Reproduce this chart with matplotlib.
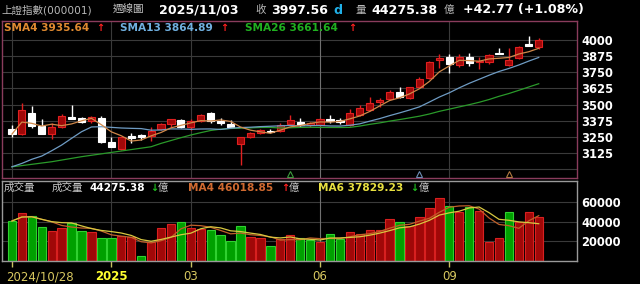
import numpy as np
import pandas as pd
import matplotlib
matplotlib.use('Agg')
import matplotlib.pyplot as plt

plt.rcParams['font.family'] = ['DejaVu Sans', 'Noto Sans CJK TC']

# 上證指數 週線 2024/10/28 .. 2025/11/03 (數值由圖上讀取)
open_ = [3309, 3272, 3433, 3335, 3272, 3329, 3407, 3394, 3375, 3399, 3213, 3154, 3255, 3262, 3257, 3309, 3350, 3381,
         3329, 3375, 3433, 3375, 3347, 3195, 3252, 3278, 3298, 3298, 3350, 3368, 3342, 3342, 3391, 3378, 3342, 3420,
         3458, 3518, 3541, 3600, 3549, 3639, 3704, 3845, 3871, 3807, 3871, 3827, 3832, 3902, 3807, 3858, 3969, 3948]
high = [3342, 3515, 3489, 3386, 3355, 3427, 3497, 3407, 3412, 3412, 3252, 3250, 3278, 3270, 3324, 3355, 3386, 3386,
        3390, 3430, 3445, 3394, 3381, 3252, 3290, 3310, 3309, 3360, 3420, 3394, 3368, 3394, 3420, 3394, 3464, 3497,
        3561, 3549, 3613, 3634, 3640, 3716, 3835, 3892, 3892, 3892, 3897, 3871, 3892, 3936, 3936, 3955, 4031, 4013]
low = [3247, 3262, 3320, 3272, 3231, 3320, 3389, 3355, 3355, 3206, 3169, 3150, 3205, 3225, 3221, 3300, 3330, 3320,
       3300, 3367, 3355, 3342, 3316, 3032, 3240, 3270, 3278, 3290, 3342, 3329, 3330, 3334, 3355, 3350, 3335, 3412,
       3450, 3484, 3536, 3549, 3540, 3634, 3695, 3781, 3742, 3794, 3799, 3773, 3814, 3892, 3799, 3850, 3954, 3928]
close = [3272, 3458, 3335, 3272, 3329, 3412, 3389, 3368, 3407, 3213, 3169, 3247, 3242, 3247, 3298, 3350, 3386, 3324,
         3375, 3420, 3375, 3355, 3329, 3247, 3278, 3303, 3285, 3342, 3381, 3342, 3355, 3386, 3375, 3365, 3433, 3476,
         3515, 3536, 3600, 3561, 3634, 3696, 3827, 3858, 3814, 3871, 3819, 3840, 3884, 3892, 3843, 3948, 3954, 3997.56]

# 成交量(億) 與紅綠 (1 = 紅)
volume = [40600, 48700, 45400, 34500, 30500, 33900, 39000, 30500, 29100, 23000, 23700, 25100, 24400, 5100, 19000,
          33900, 38000, 39600, 33900, 32000, 31200, 26800, 20300, 35200, 24400, 23700, 14900, 22000, 26100, 23700,
          21700, 19300, 27100, 22700, 29100, 27800, 31200, 31900, 42300, 39600, 35200, 44700, 54000, 63900, 55800,
          49700, 54800, 50700, 19500, 23400, 49800, 40000, 50000, 44275.38]
vol_up = [0, 1, 0, 0, 1, 1, 0, 0, 1, 0, 0, 1, 1, 0, 1, 1, 1, 0, 1, 1, 0, 0, 0, 0, 1, 1, 0, 1, 1, 0, 0, 1, 0, 0,
          1, 1, 1, 1, 1, 0, 1, 1, 1, 1, 0, 1, 0, 1, 1, 1, 0, 1, 1, 1]

# 均線開頭 (圖上讀取, 之前的資料不在圖內)
sma13_head = [3019, 3045, 3077, 3102, 3143, 3187, 3239, 3290, 3327, 3329, 3324, 3319]
sma26_head = [3019, 3028, 3038, 3048, 3058, 3071, 3084, 3097, 3108, 3119, 3130, 3141, 3152, 3163, 3174, 3200,
              3222, 3244, 3265, 3283, 3300, 3310, 3315, 3318, 3320]

tick_idx = [0, 10, 18, 31, 44]
tick_text = ['2024/10/28', '2025', '03', '06', '09']
mark_idx = [28, 41, 50]
mark_col = ['#3c9a3c', '#6c8cb4', '#b07840']

price_grid = [3000, 3125, 3250, 3375, 3500, 3625, 3750, 3875, 4000]
price_labels = [3125, 3250, 3375, 3500, 3625, 3750, 3875, 4000]
vol_grid = [20000, 40000, 60000]

# 計算均線
c = pd.Series(close)
sma4 = c.rolling(4, min_periods=1).mean().values
sma13 = c.rolling(13).mean().values
sma13[:len(sma13_head)] = sma13_head
sma26 = c.rolling(26).mean().values
sma26[:len(sma26_head)] = sma26_head
v = pd.Series(volume)
vma4 = v.rolling(4, min_periods=1).mean().values
vma6 = v.rolling(6, min_periods=1).mean().values

n = len(close)
x = np.arange(n)
o = np.array(open_)
cl = np.array(close)
up = cl >= o

W, H = 640, 284
fig = plt.figure(figsize=(6.4, 2.84), dpi=100, facecolor='black')
ax1 = fig.add_axes([2 / W, 1 - 177.5 / H, 575 / W, 156.5 / H], facecolor='black')
ax2 = fig.add_axes([2 / W, 1 - 261 / H, 575 / W, 80 / H], facecolor='black')

xlim = (-1.0, 56.85)
grid_c = '#3a3a3a'

# ---- 上圖 K 線 ----
ax1.set_xlim(*xlim)
ax1.set_ylim(2936, 4147)
for p in price_grid:
    ax1.axhline(p, color=grid_c, lw=0.8, zorder=0)
for i in tick_idx:
    ax1.axvline(i, color='#707070' if i == 31 else grid_c, lw=0.8, zorder=0)

red_fill, red_edge = '#a00808', '#e02020'
wick_c = np.where(up, red_edge, 'white')
ax1.vlines(x, low, high, colors=wick_c, lw=1.0, zorder=2)
body_bot = np.minimum(o, cl)
body_h = np.maximum(np.abs(cl - o), 8)
ax1.bar(x, body_h, bottom=body_bot, width=0.72,
        color=np.where(up, red_fill, 'white'), edgecolor=np.where(up, red_edge, 'white'),
        linewidth=0.8, zorder=3)

ax1.plot(x, sma26, color='#2a9a2a', lw=0.9, zorder=4)
ax1.plot(x, sma13, color='#6f9cc4', lw=0.9, zorder=4)
ax1.plot(x, sma4, color='#d0884a', lw=0.9, zorder=4)

for i, col in zip(mark_idx, mark_col):
    ax1.plot(i, 2960, marker='^', ms=5, mfc='none', mec=col, mew=0.8, zorder=5)

ax1.yaxis.tick_right()
ax1.set_yticks(price_labels)
ax1.set_yticklabels([str(p) for p in price_labels], color='white', fontsize=8.3, fontweight='bold')
ax1.tick_params(axis='y', length=0, pad=3)
ax1.set_xticks([])
for s in ax1.spines.values():
    s.set_color('#8a3c5c')
    s.set_linewidth(1.0)

# ---- 下圖 成交量 ----
ax2.set_xlim(*xlim)
ax2.set_ylim(0, 81200)
for vg in vol_grid:
    ax2.axhline(vg, color=grid_c, lw=0.8, zorder=0)
for i in tick_idx:
    ax2.axvline(i, color='#707070' if i == 31 else grid_c, lw=0.8, zorder=0)

vu = np.array(vol_up) == 1
ax2.bar(x, volume, width=0.84, color=np.where(vu, '#a00808', '#00a000'),
        edgecolor=np.where(vu, '#d82020', '#30d030'), linewidth=0.8, zorder=2)
ax2.plot(x, vma4, color='#c0602a', lw=0.9, zorder=3)
ax2.plot(x, vma6, color='#d8c840', lw=0.9, zorder=3)

ax2.yaxis.tick_right()
ax2.set_yticks(vol_grid)
ax2.set_yticklabels([str(vg) for vg in vol_grid], color='white', fontsize=8.3, fontweight='bold')
ax2.tick_params(axis='y', length=0, pad=3)
ax2.set_xticks(tick_idx)
ax2.set_xticklabels([])
ax2.tick_params(axis='x', length=4, color='#c8c060', width=1)
for s in ax2.spines.values():
    s.set_color('#9a9a9a')
    s.set_linewidth(1.0)

for i, t in zip(tick_idx, tick_text):
    if i == 0:
        ax2.text(i - 0.55, -0.2, t, transform=ax2.get_xaxis_transform(), ha='left', va='center',
                 color='#d8c860', fontsize=8.5)
    elif t == '2025':
        ax2.text(i, -0.2, t, transform=ax2.get_xaxis_transform(), ha='center', va='center',
                 color='#ffff30', fontsize=8.5, fontweight='bold')
    else:
        ax2.text(i, -0.2, t, transform=ax2.get_xaxis_transform(), ha='center', va='center',
                 color='#d8c860', fontsize=8.5)


def put(px, py, s, color, size=8, weight='normal'):
    fig.text(px / W, 1 - py / H, s, color=color, fontsize=size, fontweight=weight, ha='left', va='center')


# 標題列
put(1, 10, '上證指數(000001)', '#b8b8b8', 7.6)
put(113, 10, '週線圖', '#c8c8c8', 7.6)
put(159, 10, '2025/11/03', 'white', 9.1, 'bold')
put(255, 10, '收', '#b8b8b8', 7.6)
put(271, 10, f'{close[-1]:.2f}', 'white', 9.1, 'bold')
put(333, 10, 'd', '#20b0e8', 9.1, 'bold')
put(355, 10, '量', '#b8b8b8', 7.6)
put(371, 10, f'{volume[-1]:.2f}', 'white', 9.1, 'bold')
put(444, 10, '億', '#b8b8b8', 7.6)
put(463, 10, '+42.77 (+1.08%)', 'white', 9.1, 'bold')

# 上圖圖例
put(4, 28, f'SMA4 {sma4[-1]:.2f}', '#e08a30', 7.6, 'bold')
put(96, 28, '↑', '#ff2020', 7, 'bold')
put(120, 28, f'SMA13 {sma13[-1]:.2f}', '#70b0e0', 7.6, 'bold')
put(220, 28, '↑', '#ff2020', 7, 'bold')
put(245, 28, f'SMA26 {sma26[-1]:.2f}', '#20b020', 7.6, 'bold')
put(348, 28, '↑', '#ff2020', 7, 'bold')

# 下圖圖例
put(4, 188, '成交量', '#c8c8c8', 7.6)
put(52, 188, '成交量', '#c8c8c8', 7.6)
put(89, 188, f'{volume[-1]:.2f}', 'white', 7.6, 'bold')
put(150, 188, '↓', '#20c020', 7, 'bold')
put(158, 188, '億', '#c8c8c8', 7.4)
put(188, 188, f'MA4 {vma4[-1]:.2f}', '#d06a30', 7.6, 'bold')
put(281, 188, '↑', '#ff2020', 7, 'bold')
put(289, 188, '億', '#c8c8c8', 7.4)
put(318, 188, f'MA6 {vma6[-1]:.2f}', '#e8e040', 7.6, 'bold')
put(410, 188, '↓', '#20c020', 7, 'bold')
put(419, 188, '億', '#c8c8c8', 7.4)

fig.savefig('out.png', dpi=100, facecolor='black')
